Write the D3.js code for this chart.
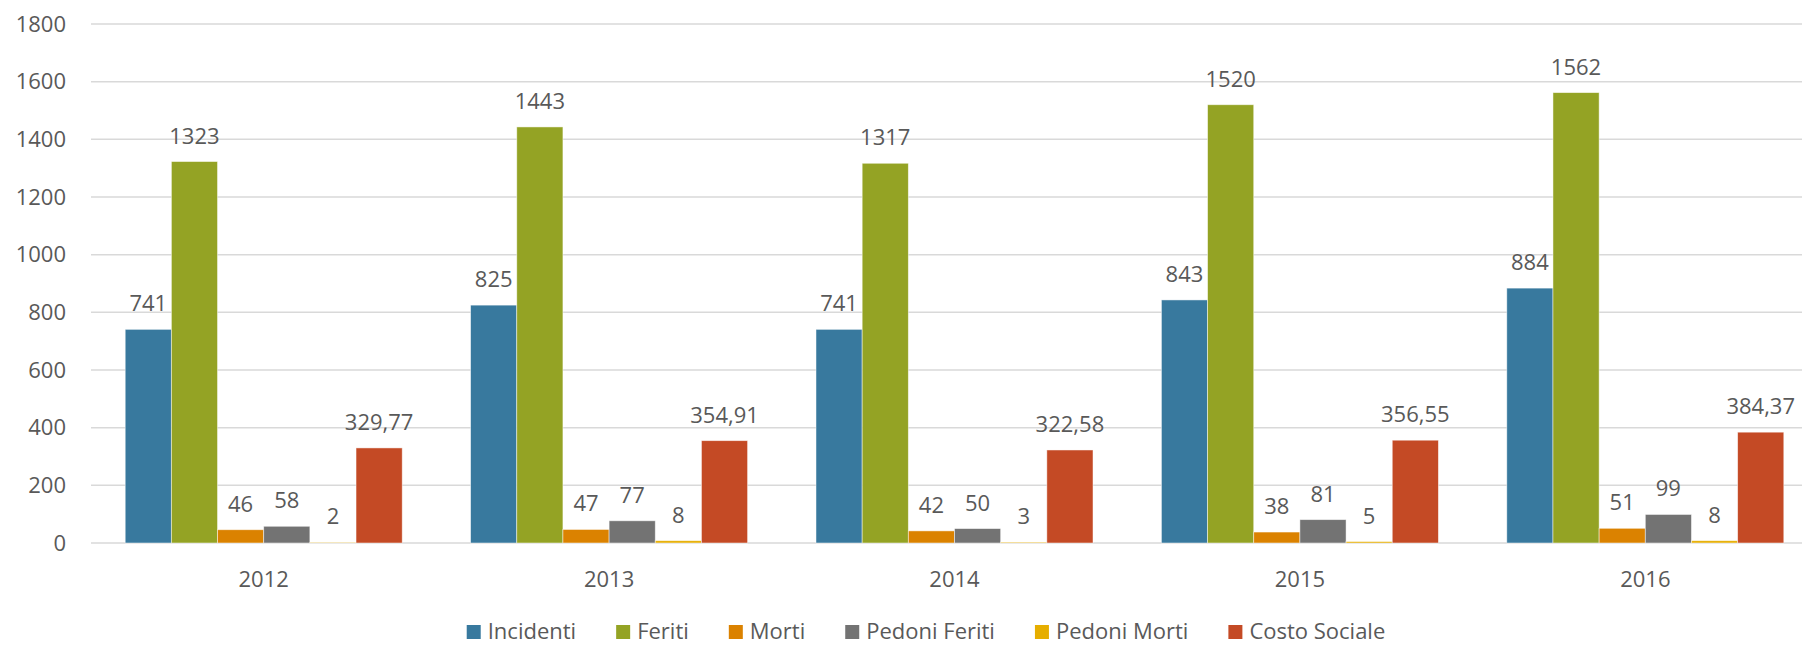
<!DOCTYPE html>
<html>
<head>
<meta charset="utf-8">
<script src="https://cdn.jsdelivr.net/npm/d3@7"></script>
<style>
  html, body { margin: 0; padding: 0; background: #fff; }
  svg { display: block; font-family: "Open Sans", sans-serif; }
</style>
</head>
<body>
<svg id="chart" width="1802" height="646"></svg>
<script>
const years = ["2012", "2013", "2014", "2015", "2016"];
const seriesNames = ["Incidenti", "Feriti", "Morti", "Pedoni Feriti", "Pedoni Morti", "Costo Sociale"];
const seriesColors = ["#38799E", "#94A324", "#DB8200", "#737373", "#E6AE00", "#C44A25"];
const incidenti = [741, 825, 741, 843, 884];
const feriti = [1323, 1443, 1317, 1520, 1562];
const morti = [46, 47, 42, 38, 51];
const pedoniFeriti = [58, 77, 50, 81, 99];
const pedoniMorti = [2, 8, 3, 5, 8];
const costoSociale = [329.77, 354.91, 322.58, 356.55, 384.37];
const yTicks = [0, 200, 400, 600, 800, 1000, 1200, 1400, 1600, 1800];

const seriesValues = [incidenti, feriti, morti, pedoniFeriti, pedoniMorti, costoSociale];
const svg = d3.select("#chart");
const textColor = "#595959";
const fontSize = 22;

const y = d3.scaleLinear().domain([0, 1800]).range([543, 24]);
const x0 = d3.scaleBand().domain(years).range([91, 1818]).paddingInner(0.198).paddingOuter(0.099);
const x1 = d3.scaleBand().domain(seriesNames).range([0, x0.bandwidth()]).padding(0);

// gridlines
svg.append("g").selectAll("line").data(yTicks).join("line")
  .attr("x1", 91).attr("x2", 1802)
  .attr("y1", d => y(d)).attr("y2", d => y(d))
  .attr("stroke", "#d9d9d9").attr("stroke-width", 1.5);

// y axis labels
const yAxis = d3.axisLeft(y).tickValues(yTicks).tickFormat(d3.format("d")).tickSize(0).tickPadding(25);
const ya = svg.append("g").attr("transform", "translate(91,0)").call(yAxis);
ya.select(".domain").remove();
ya.selectAll("text").attr("font-size", fontSize).attr("fill", textColor)
  .attr("font-family", "Open Sans, sans-serif");

// bars
const fmt = v => Number.isInteger(v) ? String(v) : v.toFixed(2).replace(".", ",");
const groups = svg.append("g").selectAll("g").data(years).join("g")
  .attr("transform", d => `translate(${x0(d)},0)`);

groups.each(function(year, yi) {
  const g = d3.select(this);
  seriesNames.forEach((name, si) => {
    const v = seriesValues[si][yi];
    g.append("rect")
      .attr("x", x1(name)).attr("width", x1.bandwidth())
      .attr("y", y(v)).attr("height", y(0) - y(v))
      .attr("fill", seriesColors[si])
      .attr("stroke", "#ffffff").attr("stroke-opacity", 0.6).attr("stroke-width", 0.8);
    g.append("text")
      .attr("x", x1(name) + x1.bandwidth() / 2)
      .attr("y", y(v) - 18)
      .attr("text-anchor", "middle")
      .attr("font-size", fontSize).attr("fill", textColor)
      .text(fmt(v));
  });
});

// x axis labels
const xAxis = d3.axisBottom(x0).tickSize(0).tickPadding(0);
const xa = svg.append("g").attr("transform", "translate(0,543)").call(xAxis);
xa.select(".domain").remove();
xa.selectAll("text").attr("font-size", fontSize).attr("fill", textColor)
  .attr("font-family", "Open Sans, sans-serif").attr("dy", null).attr("y", 44);

// legend
const legend = svg.append("g");
let cx = 0;
const gap = 40;
seriesNames.forEach((name, i) => {
  const it = legend.append("g");
  it.append("rect").attr("x", 0).attr("y", 625).attr("width", 14).attr("height", 14).attr("fill", seriesColors[i]);
  const t = it.append("text").attr("x", 21).attr("y", 639).attr("font-size", fontSize).attr("fill", textColor).text(name);
  const w = 21 + t.node().getComputedTextLength();
  it.attr("transform", `translate(${cx},0)`);
  cx += w + gap;
});
const totalW = cx - gap;
legend.attr("transform", `translate(${926 - totalW / 2},0)`);
</script>
</body>
</html>
